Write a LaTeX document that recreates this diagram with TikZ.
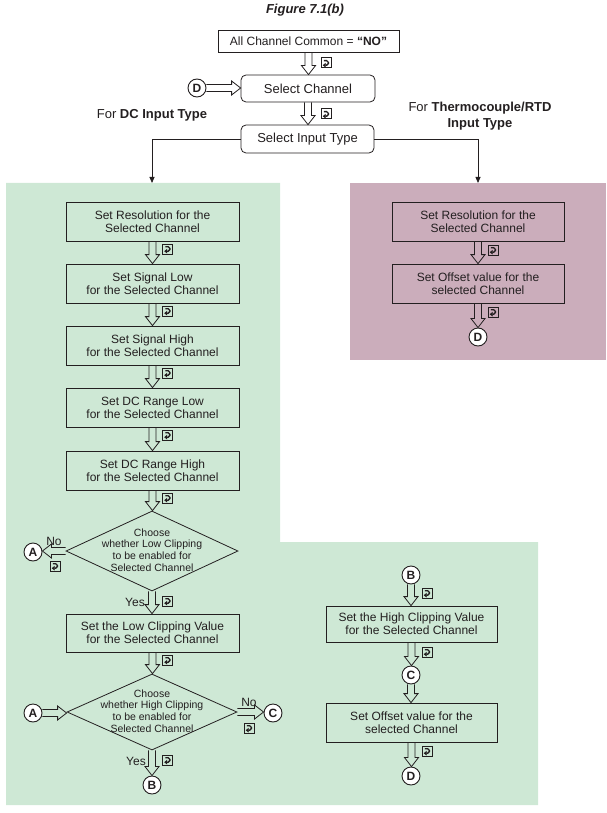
\documentclass[tikz,border=0pt]{standalone}
\usepackage{fontspec}
\setmainfont{Liberation Sans}
\usetikzlibrary{shapes.geometric,arrows.meta,calc}
\definecolor{ink}{HTML}{231F20}
\definecolor{greenbg}{HTML}{CEE8D5}
\definecolor{pinkbg}{HTML}{CBADBB}
\tikzset{
  sqbox/.style={draw=ink, line width=0.8pt, minimum width=173pt, minimum height=39pt, align=center, inner sep=0pt, text=ink, font=\fontsize{12}{13.2}\selectfont},
  topbox/.style={draw=ink, fill=white, line width=0.8pt, inner sep=0pt, align=center, text=ink, font=\fontsize{12}{14}\selectfont},
  rbox/.style={topbox, rounded corners=5pt, font=\fontsize{13}{15}\selectfont},
  conn/.style={circle, draw=ink, fill=white, line width=0.9pt, minimum size=18pt, inner sep=0pt, text=ink, font=\bfseries\fontsize{12}{12}\selectfont},
  dia/.style={diamond, draw=ink, line width=0.8pt, inner sep=0pt},
  diatext/.style={align=center, text=ink, font=\fontsize{10.5}{11.7}\selectfont, inner sep=0pt},
  harrow/.style={draw=ink, line width=0.8pt, line join=miter},
  lbl/.style={font=\fontsize{13}{15}\selectfont, align=center, text=ink},
  yn/.style={font=\fontsize{12}{12}\selectfont, inner sep=0pt, text=ink},
  conline/.style={draw=ink, line width=0.8pt},
  enterkey/.pic={
    \draw[ink, line width=1pt] (-5,-5) rectangle (5,5);
    \draw[ink, line width=1.4pt, rounded corners=1.6pt, -{Triangle[length=3pt,width=4.6pt]}] (-2.2,-2.3) -- (2.3,-2.3) -- (2.3,2.2) -- (-3.3,2.2);
  }
}
\newcommand\harrowdown[2]{\draw[harrow] let \p1=(#1), \p2=(#2) in
  (\x1-3.5pt,\y1) -- (\x1-3.5pt,\y2+9pt) -- (\x1-7pt,\y2+9pt) -- (\x1,\y2) -- (\x1+7pt,\y2+9pt) -- (\x1+3.5pt,\y2+9pt) -- (\x1+3.5pt,\y1);}
\newcommand\harrowright[2]{\draw[harrow] let \p1=(#1), \p2=(#2) in
  (\x1,\y1+3.5pt) -- (\x2-9pt,\y1+3.5pt) -- (\x2-9pt,\y1+7pt) -- (\x2,\y1) -- (\x2-9pt,\y1-7pt) -- (\x2-9pt,\y1-3.5pt) -- (\x1,\y1-3.5pt);}
\newcommand\harrowleft[2]{\draw[harrow] let \p1=(#1), \p2=(#2) in
  (\x1,\y1+3.5pt) -- (\x2+9pt,\y1+3.5pt) -- (\x2+9pt,\y1+7pt) -- (\x2,\y1) -- (\x2+9pt,\y1-7pt) -- (\x2+9pt,\y1-3.5pt) -- (\x1,\y1-3.5pt);}
\begin{document}
\begin{tikzpicture}[x=1pt,y=-1pt]
\useasboundingbox (0,0) rectangle (606,813);
% backgrounds
\fill[greenbg] (6,183) -- (280,183) -- (280,542) -- (538,542) -- (538,805) -- (6,805) -- cycle;
\fill[pinkbg] (350,183) rectangle (606,360);
% title
\node[text=ink, font=\bfseries\itshape\fontsize{13}{15}\selectfont] (title) at (305,10) {Figure 7.1(b)};
% top part
\node[topbox, minimum width=181pt, minimum height=22pt] (top) at (308.5,41) {All Channel Common = \textbf{“NO”}};
\node[rbox, minimum width=134pt, minimum height=27pt] (sc) at (308,88.5) {Select Channel};
\node[rbox, minimum width=133pt, minimum height=28pt] (sit) at (307.5,139) {Select Input Type};
\node[conn] (dtop) at (197,88) {D};
\harrowdown{top.south}{sc.north}
\pic at (326,63) {enterkey};
\harrowdown{sc.south}{sit.north}
\pic at (326,114) {enterkey};
\harrowright{dtop.east}{sc.west}
\node[lbl] (ldc) at (152,115) {For \textbf{DC Input Type}};
\node[lbl, font=\fontsize{13}{16.5}\selectfont] (ltc) at (480,116) {For \textbf{Thermocouple/RTD}\\\textbf{Input Type}};
\coordinate (gtop) at (152,183);
\coordinate (ptop) at (478,183);
\draw[conline, -{Triangle[length=6pt,width=5pt]}] (sit.west) -| (gtop);
\draw[conline, -{Triangle[length=6pt,width=5pt]}] (sit.east) -| (ptop);
% left column
\node[sqbox] (b1) at (152.5,221.5) {Set Resolution for the\\Selected Channel};
\node[sqbox] (b2) at (152.5,283.5) {Set Signal Low\\for the Selected Channel};
\node[sqbox] (b3) at (152.5,345.5) {Set Signal High\\for the Selected Channel};
\node[sqbox] (b4) at (152.5,407.5) {Set DC Range Low\\for the Selected Channel};
\node[sqbox] (b5) at (152.5,470.5) {Set DC Range High\\for the Selected Channel};
\harrowdown{b1.south}{b2.north} \pic at (167.5,249) {enterkey};
\harrowdown{b2.south}{b3.north} \pic at (167.5,311) {enterkey};
\harrowdown{b3.south}{b4.north} \pic at (167.5,373) {enterkey};
\harrowdown{b4.south}{b5.north} \pic at (167.5,435) {enterkey};
\node[dia, minimum width=172pt, minimum height=80pt] (d1) at (152,551) {};
\node[diatext] (d1t) at (152,550) {Choose\\whether Low Clipping\\to be enabled for\\Selected Channel};
\harrowdown{b5.south}{d1.north} \pic at (167.5,498) {enterkey};
\node[conn] (a1) at (33,552) {A};
\harrowleft{d1.west}{a1.east}
\node[yn] (no1) at (54,541) {No};
\pic at (55,566) {enterkey};
\node[sqbox, minimum height=38pt] (b6) at (152.5,633) {Set the Low Clipping Value\\for the Selected Channel};
\harrowdown{d1.south}{b6.north}
\node[yn] (yes1) at (135,602) {Yes};
\pic at (167.5,601) {enterkey};
\node[dia, minimum width=170pt, minimum height=76pt] (d2) at (152,712) {};
\node[diatext] (d2t) at (152,711) {Choose\\whether High Clipping\\to be enabled for\\Selected Channel};
\harrowdown{b6.south}{d2.north} \pic at (167.5,660) {enterkey};
\node[conn] (a2) at (33,713) {A};
\harrowright{a2.east}{d2.west}
\node[conn] (c1) at (273,713) {C};
\harrowright{d2.east}{c1.west}
\node[yn] (no2) at (249,702) {No};
\pic at (249,728) {enterkey};
\node[conn] (bc1) at (152,785) {B};
\harrowdown{d2.south}{bc1.north}
\node[yn] (yes2) at (136,761) {Yes};
\pic at (167.5,760) {enterkey};
% right green column
\node[conn] (bc2) at (411,575) {B};
\node[sqbox, minimum width=171pt, minimum height=36pt] (r1) at (411.5,624) {Set the High Clipping Value\\for the Selected Channel};
\node[conn] (cc2) at (411,675) {C};
\node[sqbox, minimum width=171pt] (r2) at (411.5,722.5) {Set Offset value for the\\selected Channel};
\node[conn] (dc2) at (411,776) {D};
\harrowdown{bc2.south}{r1.north} \pic at (427,593) {enterkey};
\harrowdown{r1.south}{cc2.north} \pic at (427,652) {enterkey};
\harrowdown{cc2.south}{r2.north}
\harrowdown{r2.south}{dc2.north} \pic at (427,751) {enterkey};
% pink column
\node[sqbox, minimum width=172pt] (p1) at (478,221.5) {Set Resolution for the\\Selected Channel};
\node[sqbox, minimum width=172pt] (p2) at (478,283.5) {Set Offset value for the\\selected Channel};
\node[conn] (dc3) at (478,337) {D};
\harrowdown{p1.south}{p2.north} \pic at (493,250) {enterkey};
\harrowdown{p2.south}{dc3.north} \pic at (493,312) {enterkey};
\end{tikzpicture}
\end{document}
